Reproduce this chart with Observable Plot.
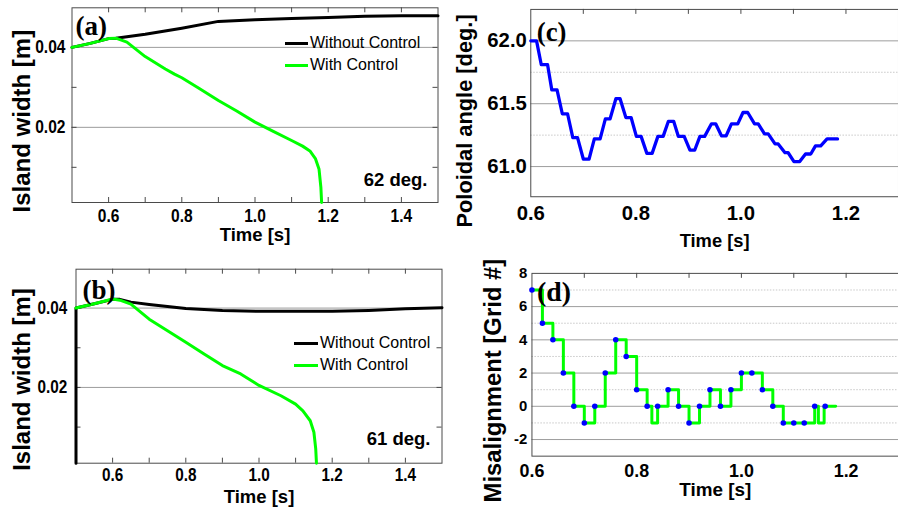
<!DOCTYPE html>
<html><head><meta charset="utf-8">
<script src="https://cdn.jsdelivr.net/npm/d3@7"></script>
<script src="https://cdn.jsdelivr.net/npm/@observablehq/plot@0.6"></script>
<style>
html,body{margin:0;padding:0;background:#fff;overflow:hidden;}
#root{position:relative;width:898px;height:509px;overflow:hidden;background:#fff;font-family:'Liberation Sans',Arial,sans-serif;}
.panel{position:absolute;overflow:hidden;}
.legend{position:absolute;font-size:16px;color:#000;}
.legend .row{display:flex;align-items:center;height:22px;white-space:nowrap;}
.legend .sw{height:3px;margin-right:2px;}
</style></head><body><div id="root"></div>
<script>
// ---------- data ----------
// (a) 62 deg.
const aTimeWithout  = [0.50,0.55,0.60,0.62,0.70,0.80,0.90,1.00,1.10,1.20,1.30,1.40,1.50];
const aWidthWithout = [0.0400,0.0410,0.0422,0.0423,0.0433,0.0448,0.0465,0.0469,0.0472,0.0475,0.0478,0.0479,0.0479];
const aTimeWith  = [0.50,0.55,0.60,0.62,0.65,0.70,0.755,0.78,0.80,0.85,0.90,0.95,1.00,1.05,1.10,1.13,1.15,1.165,1.175,1.18,1.182];
const aWidthWith = [0.0400,0.0410,0.0422,0.0423,0.0413,0.0377,0.0346,0.0333,0.0324,0.0296,0.0267,0.0241,0.0213,0.0190,0.0167,0.0153,0.0141,0.0122,0.0095,0.0050,0.0012];
// (b) 61 deg.
const bTimeWithout  = [0.50,0.50,0.55,0.60,0.62,0.65,0.70,0.80,0.90,1.00,1.10,1.20,1.30,1.40,1.50];
const bWidthWithout = [0.0009,0.0400,0.0411,0.0422,0.0422,0.0415,0.0409,0.0399,0.0394,0.0392,0.0392,0.0392,0.0394,0.0398,0.0401];
const bTimeWith  = [0.50,0.55,0.60,0.62,0.65,0.70,0.75,0.80,0.85,0.90,0.95,1.00,1.06,1.10,1.12,1.14,1.15,1.155,1.157];
const bWidthWith = [0.0400,0.0411,0.0423,0.0420,0.0410,0.0372,0.0343,0.0314,0.0284,0.0255,0.0234,0.0205,0.0179,0.0158,0.0141,0.0116,0.0087,0.0045,0.0009];
// (c) poloidal angle
const cTime  = [0.600,0.611,0.620,0.632,0.640,0.650,0.660,0.670,0.680,0.689,0.700,0.711,0.721,0.732,0.742,0.751,0.762,0.770,0.781,0.791,0.801,0.810,0.821,0.831,0.842,0.852,0.862,0.872,0.881,0.892,0.903,0.912,0.922,0.931,0.944,0.952,0.963,0.972,0.982,0.994,1.004,1.013,1.026,1.033,1.045,1.052,1.065,1.071,1.084,1.090,1.101,1.112,1.123,1.133,1.142,1.152,1.164,1.184];
const cAngle = [62.00,62.00,61.81,61.81,61.61,61.61,61.42,61.42,61.23,61.23,61.06,61.06,61.22,61.22,61.38,61.38,61.54,61.54,61.39,61.39,61.24,61.24,61.105,61.105,61.24,61.24,61.36,61.36,61.24,61.24,61.13,61.13,61.24,61.24,61.34,61.34,61.245,61.245,61.34,61.34,61.43,61.43,61.34,61.34,61.26,61.26,61.18,61.18,61.11,61.11,61.04,61.04,61.10,61.10,61.165,61.165,61.22,61.22];
// (d) misalignment
const dTime = [0.60,0.62,0.64,0.66,0.68,0.70,0.72,0.74,0.76,0.78,0.80,0.82,0.84,0.86,0.88,0.90,0.92,0.94,0.96,0.98,1.00,1.02,1.04,1.06,1.08,1.10,1.12,1.14,1.16];
const dGrid = [7,5,4,2,0,-1,0,2,4,3,1,0,0,1,0,-1,0,1,0,1,2,2,1,0,-1,-1,-1,0,0];
const dStepTime = [0.60,0.62,0.64,0.66,0.68,0.70,0.72,0.74,0.76,0.78,0.80,0.82,0.829,0.84,0.86,0.88,0.90,0.92,0.94,0.96,0.98,1.00,1.04,1.06,1.08,1.14,1.147,1.158,1.18];
const dStepGrid = [7,5,4,2,0,-1,0,2,4,3,1,0,-1,0,1,0,-1,0,1,0,1,2,1,0,-1,0,-1,0,0];
// ticks & labels
const abXTicks = [0.6,0.8,1.0,1.2,1.4];
const abXMinor = [0.6,0.7,0.8,0.9,1.0,1.1,1.2,1.3,1.4];
const abYTicks = [0.02,0.04];
const abYMinor = [0.01,0.02,0.03,0.04];
const cdXTicks = [0.6,0.8,1.0,1.2];
const cdXMinor = [0.7,0.8,0.9,1.0,1.1,1.2];
const cYTicks = [61.0,61.5,62.0];
const cYDotted = [61.25,61.75];
const dYTicks = [-2,0,2,4,6,8];
const dYGrid = [-2,0,2,4,6];
const dYDotted = [-1,1,3,5,7];
const legendNames = ["Without Control","With Control"];
const legendColors = ["#000000","#00ff00"];

// ---------- helpers ----------
const SANS = "'Liberation Sans', Arial, sans-serif";
const SERIF = "'Liberation Serif', 'Times New Roman', serif";
const GREEN = "#00ff00", BLUE = "#0000ff", FRAME = "#4a4a4a", GRID = "#9c9c9c", DOT = "#c8c8c8";
const rows = (xs, ys, kx, ky) => xs.map((v, i) => ({[kx]: v, [ky]: ys[i]}));
const root = document.getElementById("root");

function place(svg, left, top, w, h) {
  const div = document.createElement("div");
  div.className = "panel";
  Object.assign(div.style, {left: left + "px", top: top + "px", width: w + "px", height: h + "px"});
  div.appendChild(svg);
  root.appendChild(div);
}
function condense(svg, k) {
  svg.querySelectorAll('g[aria-label="x-axis tick label"] text, g[aria-label="y-axis tick label"] text').forEach(t => {
    const tr = t.getAttribute("transform");
    if (tr) t.setAttribute("transform", tr + ` scale(${k},1)`);
    else {
      const x = +t.getAttribute("x") || 0, y = +t.getAttribute("y") || 0;
      t.removeAttribute("x"); t.removeAttribute("y");
      t.setAttribute("transform", `translate(${x},${y}) scale(${k},1)`);
    }
  });
}
function legend(left, top, swW) {
  const lg = document.createElement("div");
  lg.className = "legend";
  lg.style.left = left + "px"; lg.style.top = top + "px";
  legendNames.forEach((n, i) => {
    const r = document.createElement("div"); r.className = "row";
    const s = document.createElement("div"); s.className = "sw";
    s.style.width = swW + "px"; s.style.background = legendColors[i];
    const t = document.createElement("span"); t.textContent = n;
    r.appendChild(s); r.appendChild(t); lg.appendChild(r);
  });
  root.appendChild(lg);
}
const intFmt = d => String(d);
function islandPanel(o) {
  const fh = o.height - o.mt - o.mb, fw = o.width - o.ml - o.mr;
  return Plot.plot({
    width: o.width, height: o.height,
    marginLeft: o.ml, marginRight: o.mr, marginTop: o.mt, marginBottom: o.mb,
    style: {fontFamily: SANS, background: "white", color: "black"},
    x: {domain: [0.5, 1.5], label: null},
    y: {domain: o.ydom, label: null},
    marks: [
      Plot.gridY(abYTicks, {stroke: GRID, strokeOpacity: 1}),
      Plot.ruleX(abXMinor, {insetTop: fh - 5, stroke: FRAME}),
      Plot.ruleX(abXMinor, {insetBottom: fh - 5, stroke: FRAME}),
      Plot.ruleY(abYMinor, {insetLeft: fw - 5, stroke: FRAME}),
      Plot.ruleY(abYMinor, {insetRight: fw - 5, stroke: FRAME}),
      Plot.frame({stroke: FRAME}),
      Plot.axisX(abXTicks, {tickSize: 0, tickPadding: o.xpad, fontSize: o.tfs, fontWeight: "bold", tickFormat: d3.format(".1f"), label: null}),
      Plot.axisY(abYTicks, {tickSize: 0, tickPadding: o.ypad, fontSize: o.tfs, fontWeight: "bold", tickFormat: d3.format(".2f"), label: null}),
      Plot.line(o.without, {x: "t", y: "w", stroke: "black", strokeWidth: 3}),
      Plot.line(o.withc, {x: "t", y: "w", stroke: GREEN, strokeWidth: 3}),
      Plot.text([o.letter], {frameAnchor: "top-left", textAnchor: "start", lineAnchor: "middle", dx: o.ldx, dy: o.ldy, fontFamily: SERIF, fontWeight: "bold", fontSize: 27}),
      Plot.text([o.deg], {frameAnchor: "bottom-right", textAnchor: "end", lineAnchor: "middle", dx: o.ddx, dy: o.ddy, fontSize: 18.5, fontWeight: "bold"}),
      Plot.text(["Time [s]"], {frameAnchor: "bottom", textAnchor: "middle", lineAnchor: "middle", dy: o.tdy, fontSize: 18.5, fontWeight: "bold"}),
      Plot.text(["Island width [m]"], {frameAnchor: "left", rotate: -90, textAnchor: "middle", lineAnchor: "middle", dx: o.ydx, dy: o.ydy, fontSize: 24, fontWeight: "bold"})
    ]
  });
}

// ---------- (a) ----------
const svgA = islandPanel({
  width: 449, height: 255, ml: 71.5, mr: 11.5, mt: 7.3, mb: 53, ydom: [0.0012, 0.0499],
  without: rows(aTimeWithout, aWidthWithout, "t", "w"), withc: rows(aTimeWith, aWidthWith, "t", "w"),
  tfs: 19, xpad: 6, ypad: 6.5, letter: "(a)", ldx: 3.5, ldy: 19, deg: "62 deg.", ddx: -10.5, ddy: -22,
  tdy: 33, ydx: -49.5, ydy: 16
});
condense(svgA, 0.82);
place(svgA, 0, 0, 449, 255);
legend(285, 32, 23);

// ---------- (b) ----------
const svgB = islandPanel({
  width: 449, height: 254, ml: 75.5, mr: 7.5, mt: 13.7, mb: 46.3, ydom: [0.0009, 0.0498],
  without: rows(bTimeWithout, bWidthWithout, "t", "w"), withc: rows(bTimeWith, bWidthWith, "t", "w"),
  tfs: 18, xpad: 5, ypad: 8.8, letter: "(b)", ldx: 6.5, ldy: 21, deg: "61 deg.", ddx: -11.5, ddy: -24.4,
  tdy: 33.5, ydx: -53.5, ydy: 13.3
});
condense(svgB, 0.85);
place(svgB, 0, 255, 449, 254);
legend(294, 332, 24);

// ---------- (c) ----------
{
  const W = 453, H = 255, ml = 82, mr = 0, mt = 9, mb = 57;
  const fh = H - mt - mb;
  const svgC = Plot.plot({
    width: W, height: H, marginLeft: ml, marginRight: mr, marginTop: mt, marginBottom: mb,
    style: {fontFamily: SANS, background: "white", color: "black"},
    x: {domain: [0.6, 1.3], label: null},
    y: {domain: [60.76, 62.25], label: null},
    marks: [
      Plot.gridY(cYDotted, {stroke: DOT, strokeOpacity: 1, strokeDasharray: "1.5,1.5"}),
      Plot.gridY(cYTicks, {stroke: GRID, strokeOpacity: 1}),
      Plot.ruleX(cdXMinor, {insetBottom: fh - 5, stroke: FRAME}),
      Plot.frame({stroke: FRAME}),
      Plot.axisX(cdXTicks, {tickSize: 0, tickPadding: 9.3, fontSize: 20.5, fontWeight: "bold", tickFormat: d3.format(".1f"), label: null}),
      Plot.axisY(cYTicks, {tickSize: 0, tickPadding: 4, fontSize: 20.5, fontWeight: "bold", tickFormat: d3.format(".1f"), label: null}),
      Plot.line(rows(cTime, cAngle, "t", "a"), {x: "t", y: "a", stroke: BLUE, strokeWidth: 3.3}),
      Plot.text(["(c)"], {frameAnchor: "top-left", textAnchor: "start", lineAnchor: "middle", dx: 6, dy: 23, fontFamily: SERIF, fontWeight: "bold", fontSize: 27}),
      Plot.text(["Time [s]"], {frameAnchor: "bottom", textAnchor: "middle", lineAnchor: "middle", dy: 45, fontSize: 18.5, fontWeight: "bold"}),
      Plot.text(["Poloidal angle [deg.]"], {frameAnchor: "left", rotate: -90, textAnchor: "middle", lineAnchor: "middle", dx: -66, dy: 18, fontSize: 22, fontWeight: "bold"})
    ]
  });
  place(svgC, 449, 0, 449, 255);
}

// ---------- (d) ----------
{
  const W = 452, H = 254, ml = 83, mr = 0, mt = 18, mb = 52;
  const fh = H - mt - mb;
  const svgD = Plot.plot({
    width: W, height: H, marginLeft: ml, marginRight: mr, marginTop: mt, marginBottom: mb,
    style: {fontFamily: SANS, background: "white", color: "black"},
    x: {domain: [0.6, 1.3], label: null},
    y: {domain: [-3, 8], label: null},
    marks: [
      Plot.gridY(dYDotted, {stroke: DOT, strokeOpacity: 1, strokeDasharray: "1.5,1.5"}),
      Plot.gridY(dYGrid, {stroke: GRID, strokeOpacity: 1}),
      Plot.ruleX(cdXMinor, {insetBottom: fh - 5, stroke: FRAME}),
      Plot.frame({stroke: FRAME}),
      Plot.axisX(cdXTicks, {tickSize: 0, tickPadding: 8, fontSize: 18, fontWeight: "bold", tickFormat: d3.format(".1f"), label: null}),
      Plot.axisY(dYTicks, {tickSize: 0, tickPadding: 4.7, fontSize: 15, fontWeight: "bold", tickFormat: intFmt, label: null}),
      Plot.line(rows(dStepTime, dStepGrid, "t", "g"), {x: "t", y: "g", stroke: GREEN, strokeWidth: 3, curve: "step-after"}),
      Plot.dot(rows(dTime, dGrid, "t", "g"), {x: "t", y: "g", r: 2.8, fill: BLUE, stroke: "none"}),
      Plot.text(["(d)"], {frameAnchor: "top-left", textAnchor: "start", lineAnchor: "middle", dx: 5, dy: 19, fontFamily: SERIF, fontWeight: "bold", fontSize: 28}),
      Plot.text(["Time [s]"], {frameAnchor: "bottom", textAnchor: "middle", lineAnchor: "middle", dy: 34, fontSize: 19, fontWeight: "bold"}),
      Plot.text(["Misalignment [Grid #]"], {frameAnchor: "left", rotate: -90, textAnchor: "middle", lineAnchor: "middle", dx: -39, dy: 16, fontSize: 24, fontWeight: "bold"})
    ]
  });
  place(svgD, 449, 255, 449, 254);
}
</script>
</body></html>
